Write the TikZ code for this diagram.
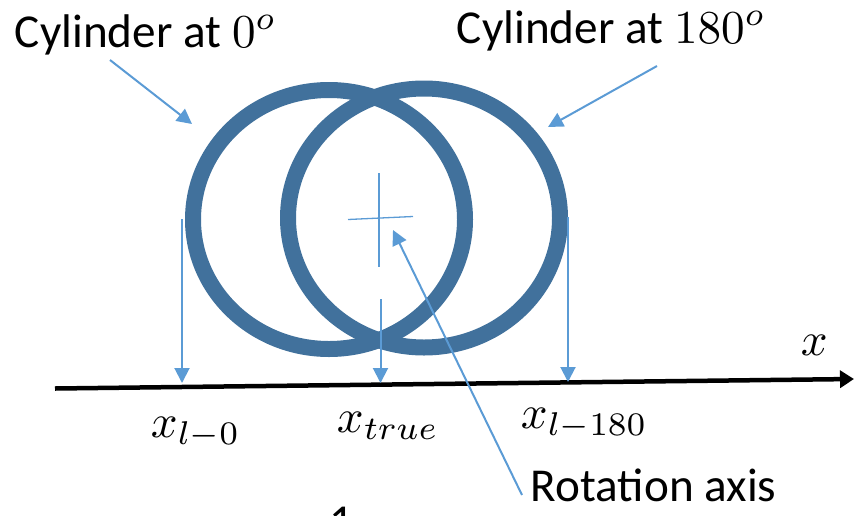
\documentclass[tikz,border=0pt]{standalone}
\usepackage{fontspec}
\setmainfont{Carlito}
\usetikzlibrary{arrows.meta}
\definecolor{ringblue}{RGB}{65,113,156}
\definecolor{lineblue}{RGB}{91,155,213}
\tikzset{
  ring/.style={draw=ringblue, line width=16pt},
  thinarrow/.style={draw=lineblue, line width=2pt, -{Triangle[length=15pt,width=15pt]}},
  crossline/.style={draw=lineblue, line width=1.3pt},
  axisline/.style={draw=black, line width=4.5pt, -{Triangle[length=14pt,width=17pt]}},
  txt/.style={font=\fontsize{10}{12}\selectfont, scale=4.72, inner sep=0pt, anchor=base west},
  mlab/.style={font=\fontsize{10}{12}\selectfont, scale=4.7, inner sep=0pt, anchor=base west},
}
\begin{document}
\begin{tikzpicture}[x=1pt,y=-1pt]
\useasboundingbox (0,0) rectangle (854,515);
% rings
\draw[ring] (329,219.5) ellipse [x radius=136pt, y radius=129.5pt];
\draw[ring] (424,218) ellipse [x radius=136pt, y radius=129.5pt];
% rotation axis cross
\draw[crossline] (379,173) -- (379,267);
\draw[crossline] (348,219.5) -- (413,216.5);
% axis
\coordinate (axL) at (55,388.5);
\coordinate (axR) at (854,379);
\draw[axisline] (axL) -- (axR);
% projection arrows
\coordinate (p0t) at (182,219);
\coordinate (p0b) at (182,383);
\coordinate (pmt) at (380.5,299);
\coordinate (pmb) at (380.5,383);
\coordinate (p1t) at (568,217);
\coordinate (p1b) at (568,382);
\draw[thinarrow] (p0t) -- (p0b);
\draw[thinarrow] (pmt) -- (pmb);
\draw[thinarrow] (p1t) -- (p1b);
% labels
\node[txt] (c0) at (14,47) {Cylinder at $0^o$};
\node[txt] (c180) at (456,43) {Cylinder at $180^o$};
\node[txt] (rot) at (530,501) {Rotation axis};
\node[txt] (one) at (329,537) {1};
\coordinate (c0tail) at (110,60);
\coordinate (c0tip) at (192,124);
\coordinate (c180tail) at (657,66);
\coordinate (c180tip) at (548,127);
\coordinate (rottail) at (522,495);
\coordinate (rottip) at (393,230);
\draw[thinarrow] (c0tail) -- (c0tip);
\draw[thinarrow] (c180tail) -- (c180tip);
\draw[thinarrow] (rottail) -- (rottip);
% math labels
\node[mlab] (xl0) at (150,437) {$x_{l-0}$};
\node[mlab] (xtrue) at (336,432) {$x_{true}$};
\node[mlab] (xl180) at (520,428) {$x_{l-180}$};
\node[mlab] (xax) at (800,355) {$x$};
\end{tikzpicture}
\end{document}
